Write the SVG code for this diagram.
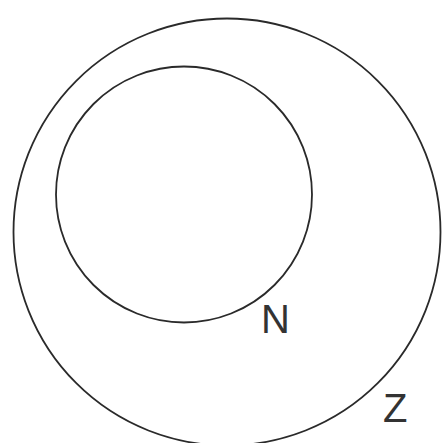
<svg xmlns="http://www.w3.org/2000/svg" width="442" height="443" viewBox="0 0 442 443">
<style>
.set{fill:none;stroke:#2a2a2a;stroke-width:1.8}
.lbl{font-family:"Liberation Sans",Arial,sans-serif;font-size:40px;fill:#333}
</style>
<rect width="442" height="443" fill="#fff"/>
<g id="Z">
<circle class="set" cx="227" cy="232" r="213.5"/>
<text class="lbl" x="383" y="422">Z</text>
</g>
<g id="N">
<circle class="set" cx="184" cy="194.5" r="128"/>
<text class="lbl" x="261" y="333">N</text>
</g>
<g id="connectors"/>
</svg>
